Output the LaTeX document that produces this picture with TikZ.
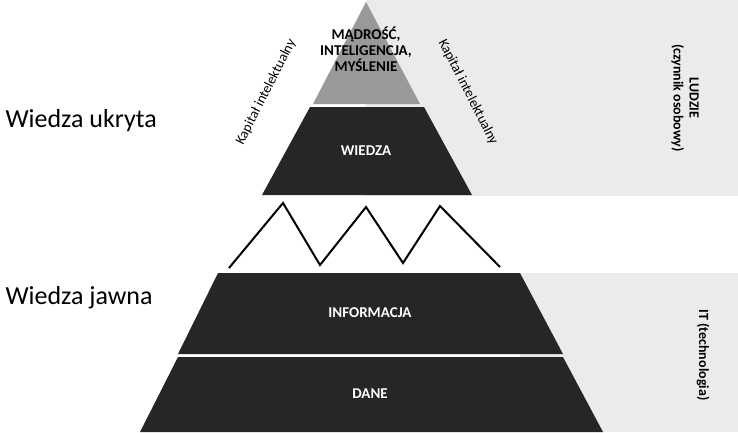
\documentclass[tikz,border=0pt]{standalone}
\usepackage{fontspec}
\setmainfont{Carlito}
\begin{document}
\begin{tikzpicture}[x=1pt,y=-1pt,
  layer/.style={fill=black!85,draw=none},
  lab/.style={font=\bfseries\fontsize{15}{16}\selectfont,align=center,inner sep=0pt},
  side/.style={font=\fontsize{26}{30}\selectfont,anchor=west}]
\useasboundingbox (0,0) rectangle (738,432);
% light bands
\fill[black!8] (366,0) rectangle (738,196);
\fill[black!8] (520,273) rectangle (738,432);

% upper pyramid
\fill[black!40] (366,2) -- (420,104) -- (313,104) -- cycle;
\fill[layer] (310,107) -- (424,107) -- (472,195) -- (262,195) -- cycle;

% zigzag
\draw[line width=2pt] (229,268) -- (283,203) -- (320,265) -- (366,207)
      -- (403,263) -- (440,206) -- (500,267);

% lower pyramid
\fill[layer] (218,273) -- (520,273) -- (563,354) -- (178,354) -- cycle;
\fill[layer] (178,357) -- (563,357) -- (603,432) -- (140,432) -- cycle;

\node[lab] (madrosc) at (366,49) {MĄDROŚĆ,\\INTELIGENCJA,\\MYŚLENIE};
\node[lab,text=white] (wiedza) at (366,151) {WIEDZA};
\node[lab,text=white] (informacja) at (370,313) {INFORMACJA};
\node[lab,text=white] (dane) at (370,394) {DANE};

\node[font=\fontsize{14}{16}\selectfont,rotate=63,inner sep=0pt] (kapl) at (266,92) {Kapitał intelektualny};
\node[font=\fontsize{14}{16}\selectfont,rotate=-63,inner sep=0pt] (kapr) at (468,92) {Kapitał intelektualny};

\node[side] (ukryta) at (2,121) {Wiedza ukryta};
\node[side] (jawna) at (2,298) {Wiedza jawna};

\node[lab,font=\bfseries\fontsize{14}{16}\selectfont,rotate=-90] (ludzie) at (685,98) {LUDZIE\\(czynnik osobowy)};
\node[lab,font=\bfseries\fontsize{14}{16}\selectfont,rotate=-90] (it) at (703,355) {IT (technologia)};
\end{tikzpicture}
\end{document}
